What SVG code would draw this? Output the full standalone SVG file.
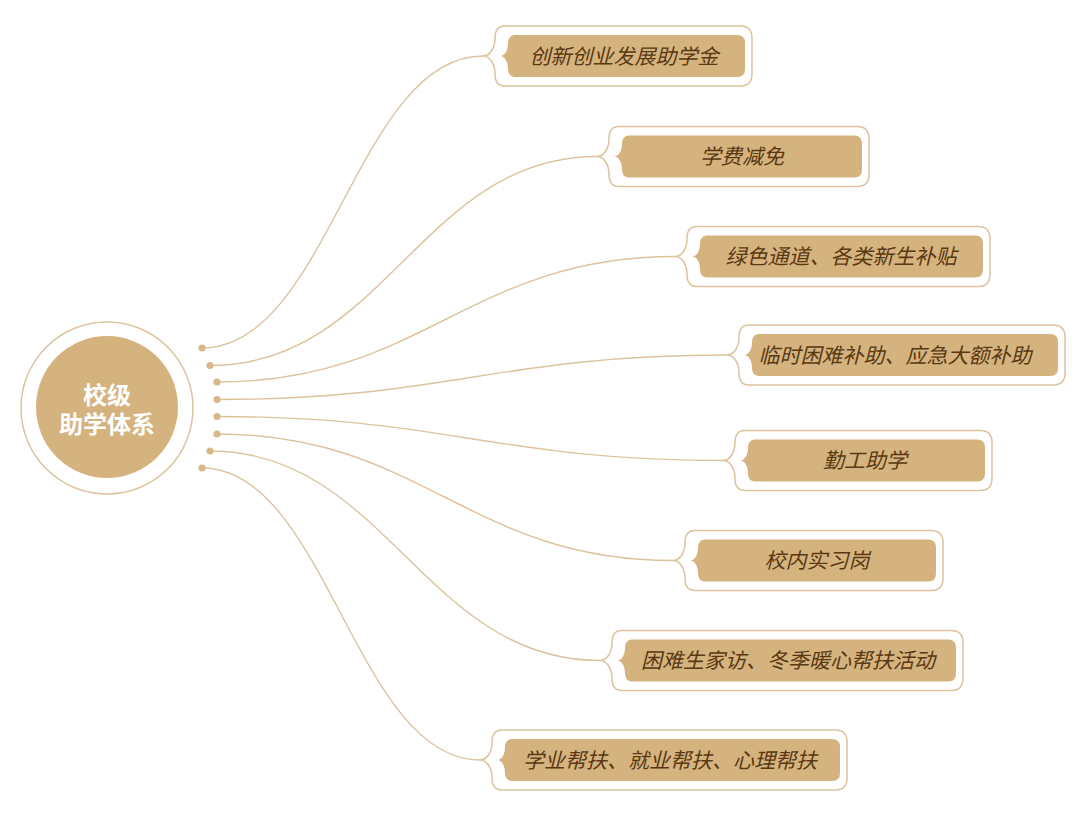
<svg xmlns="http://www.w3.org/2000/svg" width="1080" height="813" viewBox="0 0 1080 813">
<style>
.conn{fill:none;stroke:#dcc39d;stroke-width:1.4}
.dot{fill:#d8b886}
.outer{fill:#fff;stroke:#dcc39d;stroke-width:1.5}
.inner{fill:#d5b37f}
.lbl{font-family:"Noto Sans CJK SC","Noto Sans",sans-serif;font-size:21px;font-style:italic;fill:#5a3812;text-anchor:middle}
.ctr{font-family:"Noto Sans CJK SC","Noto Sans",sans-serif;font-size:24px;font-weight:bold;fill:#fff;text-anchor:middle}
</style>
<rect width="1080" height="813" fill="#fff"/>
<g id="connectors">
<path class="conn" d="M202,348 C328,348 357,56 483,56"/>
<path class="conn" d="M210,365.5 C385,365.5 422,156.5 597,156.5"/>
<path class="conn" d="M217,382 C423,382 469,256.5 675,256.5"/>
<path class="conn" d="M217,399.5 C447,399.5 497,355 727,355"/>
<path class="conn" d="M217,416.5 C445,416.5 495,460.5 723,460.5"/>
<path class="conn" d="M217,434 C422,434 468,560.5 673,560.5"/>
<path class="conn" d="M210,451 C385,451 425,660.5 600,660.5"/>
<path class="conn" d="M202,468 C326,468 356,760 480,760"/>
<circle class="dot" cx="202" cy="348" r="3.6"/>
<circle class="dot" cx="210" cy="365.5" r="3.6"/>
<circle class="dot" cx="217" cy="382" r="3.6"/>
<circle class="dot" cx="217" cy="399.5" r="3.6"/>
<circle class="dot" cx="217" cy="416.5" r="3.6"/>
<circle class="dot" cx="217" cy="434" r="3.6"/>
<circle class="dot" cx="210" cy="451" r="3.6"/>
<circle class="dot" cx="202" cy="468" r="3.6"/>
</g>
<g id="center">
<circle cx="107" cy="408" r="86" fill="#fff" stroke="#dcc39d" stroke-width="1.5"/>
<circle cx="107" cy="407" r="71" fill="#d5b37f"/>
<text class="ctr" x="107" y="404">校级</text>
<text class="ctr" x="107" y="433">助学体系</text>
</g>
<g id="n1" transform="translate(483,56)">
<path class="outer" d="M22,-30 H257 Q269,-30 269,-18 V18 Q269,30 257,30 H22 C15,30 12,25 12,18 C12,8 7,0 0,0 C7,0 12,-8 12,-18 C12,-25 15,-30 22,-30 Z"/>
<path class="inner" d="M32,-21 H254 Q262,-21 262,-13 V13 Q262,21 254,21 H32 C28,21 25,18 25,13 C25,6 22,0 17,0 C22,0 25,-6 25,-13 C25,-18 28,-21 32,-21 Z"/>
<text class="lbl" x="141" y="7.5">创新创业发展助学金</text>
</g>
<g id="n2" transform="translate(597,156.5)">
<path class="outer" d="M22,-30 H260 Q272,-30 272,-18 V18 Q272,30 260,30 H22 C15,30 12,25 12,18 C12,8 7,0 0,0 C7,0 12,-8 12,-18 C12,-25 15,-30 22,-30 Z"/>
<path class="inner" d="M32,-21 H257 Q265,-21 265,-13 V13 Q265,21 257,21 H32 C28,21 25,18 25,13 C25,6 22,0 17,0 C22,0 25,-6 25,-13 C25,-18 28,-21 32,-21 Z"/>
<text class="lbl" x="145" y="7.5">学费减免</text>
</g>
<g id="n3" transform="translate(675,256.5)">
<path class="outer" d="M22,-30 H303 Q315,-30 315,-18 V18 Q315,30 303,30 H22 C15,30 12,25 12,18 C12,8 7,0 0,0 C7,0 12,-8 12,-18 C12,-25 15,-30 22,-30 Z"/>
<path class="inner" d="M32,-21 H300 Q308,-21 308,-13 V13 Q308,21 300,21 H32 C28,21 25,18 25,13 C25,6 22,0 17,0 C22,0 25,-6 25,-13 C25,-18 28,-21 32,-21 Z"/>
<text class="lbl" x="166" y="7.5">绿色通道、各类新生补贴</text>
</g>
<g id="n4" transform="translate(727,355)">
<path class="outer" d="M22,-30 H326 Q338,-30 338,-18 V18 Q338,30 326,30 H22 C15,30 12,25 12,18 C12,8 7,0 0,0 C7,0 12,-8 12,-18 C12,-25 15,-30 22,-30 Z"/>
<path class="inner" d="M32,-21 H323 Q331,-21 331,-13 V13 Q331,21 323,21 H32 C28,21 25,18 25,13 C25,6 22,0 17,0 C22,0 25,-6 25,-13 C25,-18 28,-21 32,-21 Z"/>
<text class="lbl" x="168" y="7.5">临时困难补助、应急大额补助</text>
</g>
<g id="n5" transform="translate(723,460.5)">
<path class="outer" d="M22,-30 H257 Q269,-30 269,-18 V18 Q269,30 257,30 H22 C15,30 12,25 12,18 C12,8 7,0 0,0 C7,0 12,-8 12,-18 C12,-25 15,-30 22,-30 Z"/>
<path class="inner" d="M32,-21 H254 Q262,-21 262,-13 V13 Q262,21 254,21 H32 C28,21 25,18 25,13 C25,6 22,0 17,0 C22,0 25,-6 25,-13 C25,-18 28,-21 32,-21 Z"/>
<text class="lbl" x="142" y="7.5">勤工助学</text>
</g>
<g id="n6" transform="translate(673,560.5)">
<path class="outer" d="M22,-30 H258 Q270,-30 270,-18 V18 Q270,30 258,30 H22 C15,30 12,25 12,18 C12,8 7,0 0,0 C7,0 12,-8 12,-18 C12,-25 15,-30 22,-30 Z"/>
<path class="inner" d="M32,-21 H255 Q263,-21 263,-13 V13 Q263,21 255,21 H32 C28,21 25,18 25,13 C25,6 22,0 17,0 C22,0 25,-6 25,-13 C25,-18 28,-21 32,-21 Z"/>
<text class="lbl" x="144" y="7.5">校内实习岗</text>
</g>
<g id="n7" transform="translate(600,660.5)">
<path class="outer" d="M22,-30 H351 Q363,-30 363,-18 V18 Q363,30 351,30 H22 C15,30 12,25 12,18 C12,8 7,0 0,0 C7,0 12,-8 12,-18 C12,-25 15,-30 22,-30 Z"/>
<path class="inner" d="M32,-21 H348 Q356,-21 356,-13 V13 Q356,21 348,21 H32 C28,21 25,18 25,13 C25,6 22,0 17,0 C22,0 25,-6 25,-13 C25,-18 28,-21 32,-21 Z"/>
<text class="lbl" x="188" y="7.5">困难生家访、冬季暖心帮扶活动</text>
</g>
<g id="n8" transform="translate(480,760)">
<path class="outer" d="M22,-30 H355 Q367,-30 367,-18 V18 Q367,30 355,30 H22 C15,30 12,25 12,18 C12,8 7,0 0,0 C7,0 12,-8 12,-18 C12,-25 15,-30 22,-30 Z"/>
<path class="inner" d="M32,-21 H352 Q360,-21 360,-13 V13 Q360,21 352,21 H32 C28,21 25,18 25,13 C25,6 22,0 17,0 C22,0 25,-6 25,-13 C25,-18 28,-21 32,-21 Z"/>
<text class="lbl" x="190" y="7.5">学业帮扶、就业帮扶、心理帮扶</text>
</g>
</svg>
